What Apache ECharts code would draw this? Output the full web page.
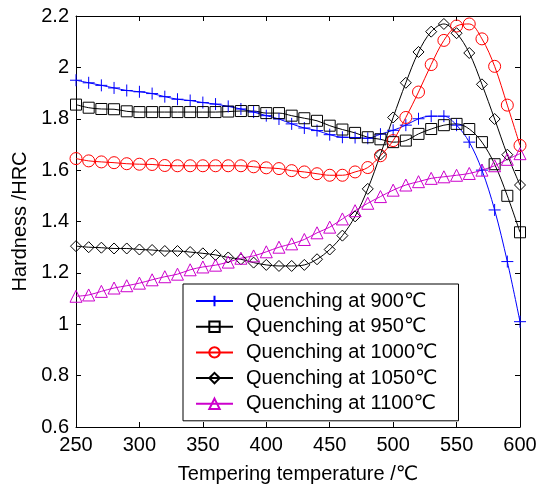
<!DOCTYPE html>
<html>
<head>
<meta charset="utf-8">
<script src="https://cdn.jsdelivr.net/npm/echarts@6/dist/echarts.min.js"></script>
<style>
html,body{margin:0;padding:0;background:#fff;}
#chart{width:541px;height:489px;}
</style>
</head>
<body>
<div id="chart"></div>
<script>
// Tempering temperatures (°C)
var temps = [250,260,270,280,290,300,310,320,330,340,350,360,370,380,390,400,410,420,430,440,450,460,470,480,490,500,510,520,530,540,550,560,570,580,590,600];

var q900 = [1.95,1.94,1.93,1.92,1.91,1.905,1.898,1.886,1.876,1.871,1.863,1.857,1.848,1.838,1.826,1.812,1.799,1.78,1.764,1.754,1.738,1.728,1.727,1.724,1.74,1.755,1.775,1.80,1.81,1.81,1.775,1.709,1.60,1.445,1.244,1.01];
var q950 = [1.855,1.843,1.838,1.837,1.829,1.826,1.826,1.826,1.826,1.826,1.826,1.826,1.828,1.83,1.83,1.822,1.822,1.812,1.802,1.792,1.773,1.758,1.745,1.728,1.72,1.709,1.715,1.741,1.76,1.775,1.78,1.76,1.709,1.623,1.50,1.358];
var q1000 = [1.645,1.636,1.632,1.629,1.625,1.623,1.622,1.618,1.617,1.617,1.617,1.617,1.617,1.617,1.613,1.609,1.606,1.598,1.593,1.586,1.58,1.58,1.593,1.61,1.656,1.715,1.805,1.904,2.011,2.105,2.161,2.169,2.111,2.004,1.853,1.696];
var q1050 = [1.304,1.300,1.298,1.295,1.295,1.291,1.289,1.285,1.285,1.281,1.276,1.270,1.260,1.253,1.240,1.231,1.227,1.227,1.231,1.253,1.291,1.345,1.420,1.527,1.661,1.805,1.94,2.06,2.139,2.169,2.133,2.056,1.934,1.799,1.660,1.542];
var q1100 = [1.109,1.114,1.128,1.141,1.150,1.160,1.173,1.185,1.195,1.212,1.223,1.230,1.242,1.257,1.266,1.282,1.300,1.313,1.330,1.356,1.378,1.410,1.442,1.471,1.497,1.522,1.542,1.555,1.568,1.574,1.580,1.587,1.600,1.617,1.642,1.664];

var seriesNames = ['Quenching at 900℃','Quenching at 950℃','Quenching at 1000℃','Quenching at 1050℃','Quenching at 1100℃'];
var xTicks = {min:250, max:600, interval:50};
var yTicks = {min:0.6, max:2.2, interval:0.2};

var FONT = '"Liberation Sans", Arial, "DejaVu Sans", "Noto Sans CJK SC", sans-serif';

function pairs(vals){ return temps.map(function(t,i){ return [t, vals[i]]; }); }

function mkSeries(name, vals, color, symbol, size){
  return {
    name: name, type: 'line', data: pairs(vals),
    smooth: 0.35, symbol: symbol, symbolSize: size, symbolKeepAspect: true,
    showAllSymbol: true,
    lineStyle: {color: color, width: 1},
    itemStyle: {color: 'rgba(255,255,255,0)', borderColor: color, borderWidth: 1},
    emphasis: {disabled: true},
    animation: false, z: 3
  };
}

var chart = echarts.init(document.getElementById('chart'), null, {renderer:'canvas'});
var axisCommon = {
  axisLine: {show: true, onZero: false, lineStyle: {color: '#000', width: 1}},
  axisTick: {show: true, inside: true, length: 5, lineStyle: {color: '#000'}},
  splitLine: {show: false}
};
chart.setOption({
  animation: false,
  backgroundColor: '#fff',
  textStyle: {fontFamily: FONT},
  grid: {left: 76, right: 21, top: 16, bottom: 58, containLabel: false},
  legend: {
    orient: 'vertical', left: 183, top: 284,
    padding: [7, 21, 7, 12],
    itemWidth: 37, itemHeight: 13, itemGap: 5.7,
    backgroundColor: '#fff', borderColor: '#000', borderWidth: 1,
    textStyle: {fontFamily: FONT, fontSize: 20, color: '#000', lineHeight: 20, padding: [0,0,0,8]},
    data: seriesNames
  },
  xAxis: [
    Object.assign({type: 'value', position: 'bottom', min: xTicks.min, max: xTicks.max, interval: xTicks.interval,
      name: 'Tempering temperature /℃', nameLocation: 'middle', nameGap: 37,
      nameTextStyle: {fontFamily: FONT, fontSize: 20, color: '#000'},
      axisLabel: {fontFamily: FONT, fontSize: 20, color: '#000', margin: 8}}, axisCommon),
    Object.assign({type: 'value', position: 'top', min: xTicks.min, max: xTicks.max, interval: xTicks.interval,
      axisLabel: {show: false}}, axisCommon)
  ],
  yAxis: [
    Object.assign({type: 'value', position: 'left', min: yTicks.min, max: yTicks.max, interval: yTicks.interval,
      name: 'Hardness /HRC', nameLocation: 'middle', nameGap: 46, nameRotate: 90,
      nameTextStyle: {fontFamily: FONT, fontSize: 20, color: '#000'},
      axisLabel: {fontFamily: FONT, fontSize: 20, color: '#000', margin: 7}}, axisCommon),
    Object.assign({type: 'value', position: 'right', min: yTicks.min, max: yTicks.max, interval: yTicks.interval,
      axisLabel: {show: false}}, axisCommon)
  ],
  series: [
    mkSeries(seriesNames[0], q900, '#0000ff', 'path://M5,0L5,10M0,5L10,5', 12),
    mkSeries(seriesNames[1], q950, '#000000', 'rect', 11),
    mkSeries(seriesNames[2], q1000, '#ff0000', 'circle', 12),
    mkSeries(seriesNames[3], q1050, '#000000', 'diamond', 11),
    mkSeries(seriesNames[4], q1100, '#cc00cc', 'triangle', 12)
  ]
});
</script>
</body>
</html>
